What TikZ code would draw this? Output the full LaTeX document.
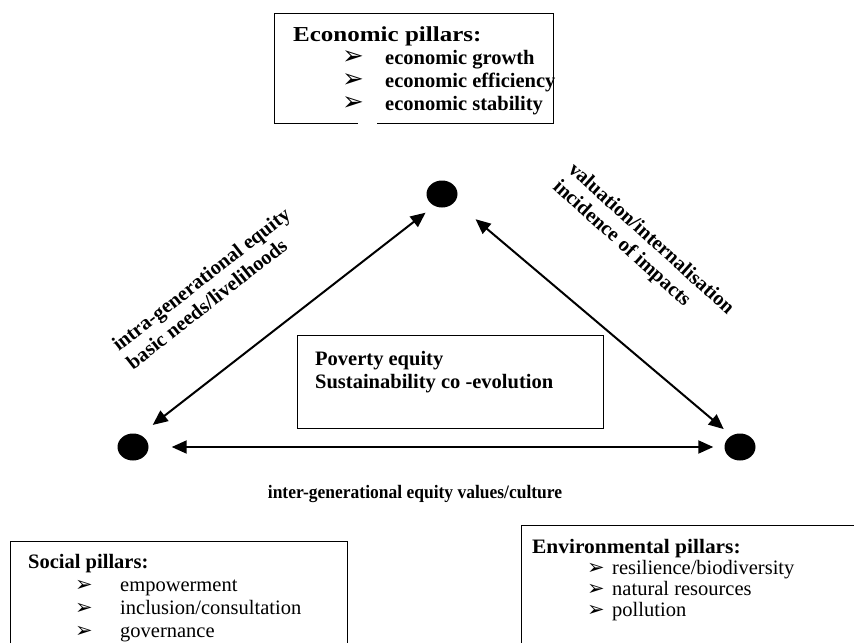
\documentclass[tikz,border=0pt]{standalone}
\usepackage{fontspec}
\setmainfont{Liberation Serif}
\newfontfamily\dingfont{DejaVu Sans}
\usetikzlibrary{arrows.meta,shapes.geometric,positioning}

% bullet arrowhead and one list line
\newcommand{\pbul}[1]{{\dingfont\fontsize{#1}{#1}\selectfont ➢}}
\newcommand{\pitem}[4]{\hspace*{#1}\makebox[#2][l]{\pbul{#3}}#4}

\tikzset{
  dot/.style={ellipse, fill=black, minimum width=31pt, minimum height=27pt, inner sep=0pt},
  link/.style={{Triangle[length=15pt,width=13pt]}-{Triangle[length=15pt,width=13pt]}, line width=2pt},
  box/.style={draw, line width=0.8pt, inner sep=0pt, anchor=north west},
  frame/.style={line width=0.8pt},
  txt/.style={inner sep=0pt, align=left, anchor=base west, font=\fontsize{20.5}{22.7}\selectfont},
  btxt/.style={txt, font=\fontsize{20.5}{23}\selectfont\bfseries},
}

\begin{document}
\begin{tikzpicture}[x=1pt, y=-1pt]
  \useasboundingbox (0,0) rectangle (854,643);

  % the three pillars (anchored at the last line)
  \node[box, minimum width=279pt, minimum height=110pt] (econ) at (274,13) {};
  \draw[white, line width=2pt] (358,123) -- (377,123);
  \node[btxt] (econtxt) at (293,110) {\scalebox{1.22}[1.04]{Economic pillars:}\\
    \pitem{49pt}{43pt}{26}{economic growth}\\
    \pitem{49pt}{43pt}{26}{economic efficiency}\\
    \pitem{49pt}{43pt}{26}{economic stability}};

  \draw[frame] (10,643) -- (10,541) -- (347,541) -- (347,643);
  \node[txt] (soctxt) at (28,637) {\textbf{Social pillars:}\\
    \pitem{47pt}{45pt}{21}{empowerment}\\
    \pitem{47pt}{45pt}{21}{inclusion/consultation}\\
    \pitem{47pt}{45pt}{21}{governance}};

  \draw[frame] (854,525) -- (521,525) -- (521,643);
  \node[txt, font=\fontsize{20.5}{21}\selectfont] (envtxt) at (532,616) {\scalebox{1.045}[1]{\textbf{Environmental pillars:}}\\
    \pitem{55pt}{25pt}{21}{resilience/biodiversity}\\
    \pitem{55pt}{25pt}{21}{natural resources}\\
    \pitem{55pt}{25pt}{21}{pollution}};

  % centre
  \node[box, minimum width=306pt, minimum height=93pt] (centre) at (297,335) {};
  \node[btxt] (centretxt) at (315,388) {Poverty equity\\Sustainability co -evolution};

  % triangle
  \node[dot] (tdot) at (442,194) {};
  \node[dot] (ldot) at (133,447) {};
  \node[dot] (rdot) at (740,447) {};

  \draw[link, shorten <=16pt, shorten >=11pt] (ldot.60) -- (tdot.237);
  \draw[link, shorten <=27pt, shorten >=10pt] (tdot.-31) -- (rdot.127);
  \draw[link, shorten <=23pt, shorten >=11pt] (ldot.east) -- (rdot.west);

  \node[btxt, anchor=center, rotate=38] (intralbl) at (208,288) {intra-generational equity\\basic needs/livelihoods};
  \node[btxt, anchor=center, rotate=-42] (valulbl) at (643,248) {valuation/internalisation\\incidence of impacts};
  \node[btxt, anchor=base] (interlbl) at (415,498) {\scalebox{0.92}[1]{\fontsize{19}{22}\selectfont inter-generational equity values/culture}};
\end{tikzpicture}
\end{document}
